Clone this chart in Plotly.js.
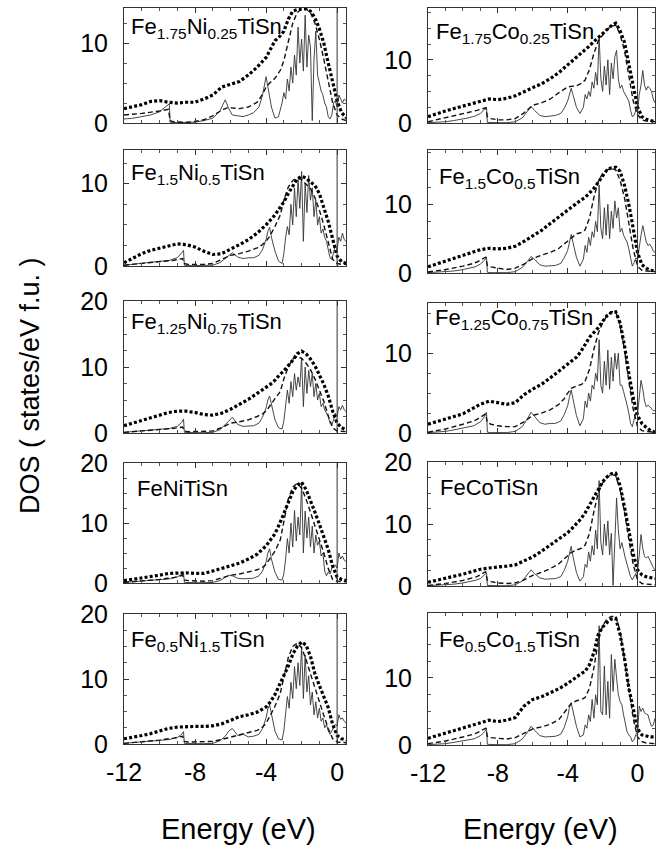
<!DOCTYPE html>
<html><head><meta charset="utf-8">
<script src="https://cdn.plot.ly/plotly-3.0.1.min.js"></script>
<style>html,body{margin:0;padding:0;background:#fff}</style>
</head><body><div id="chart" style="width:666px;height:850px"></div>
<script>
// ---- energy grids (eV) ----
const E_solid = [-12,-11.5,-11,-10.5,-10,-9.7,-9.45,-9.4,-9.3,-9,-8.75,-8.65,-8.6,-8.4,-8,-7.5,-7,-6.6,-6.3,-6.1,-5.9,-5.6,-5.3,-5,-4.7,-4.4,-4.2,-4.0,-3.9,-3.8,-3.7,-3.5,-3.3,-3.1,-3.0,-2.9,-2.8,-2.7,-2.6,-2.5,-2.4,-2.3,-2.2,-2.1,-2.0,-1.9,-1.8,-1.7,-1.6,-1.5,-1.4,-1.3,-1.2,-1.1,-1.0,-0.9,-0.8,-0.7,-0.6,-0.5,-0.4,-0.3,-0.2,-0.1,0,0.1,0.2,0.3,0.4,0.5,0.6,0.7,0.8,0.9,1.0];
const E_dash = [-12,-11,-10,-9.5,-9.4,-9.2,-8.7,-8.6,-8.4,-8,-7.5,-7,-6.5,-6.2,-6,-5.5,-5,-4.5,-4.2,-4,-3.8,-3.5,-3.2,-3,-2.75,-2.5,-2.25,-2,-1.75,-1.5,-1.25,-1,-0.75,-0.5,-0.25,0,0.25,0.5,1];
const E_dots = [-12,-11.5,-11,-10.5,-10,-9.5,-9,-8.5,-8,-7.5,-7,-6.5,-6,-5.5,-5,-4.5,-4,-3.75,-3.5,-3.25,-3,-2.75,-2.5,-2.25,-2,-1.75,-1.5,-1.25,-1,-0.75,-0.5,-0.25,0,0.25,0.5,0.75,1];

const panelLabels = ['Fe<sub>1.75</sub>Ni<sub>0.25</sub>TiSn','Fe<sub>1.75</sub>Co<sub>0.25</sub>TiSn','Fe<sub>1.5</sub>Ni<sub>0.5</sub>TiSn','Fe<sub>1.5</sub>Co<sub>0.5</sub>TiSn','Fe<sub>1.25</sub>Ni<sub>0.75</sub>TiSn','Fe<sub>1.25</sub>Co<sub>0.75</sub>TiSn','FeNiTiSn','FeCoTiSn','Fe<sub>0.5</sub>Ni<sub>1.5</sub>TiSn','Fe<sub>0.5</sub>Co<sub>1.5</sub>TiSn'];
const xTickVals = [-12,-8,-4,0];
const xTickText = ['-12','-8','-4','0'];

// ---- Fe1.75Ni0.25TiSn ----
const solid_Ni025 = [0.5,0.6,0.8,1.0,1.4,1.9,2.4,0.1,0.05,0.05,0.05,0.05,0.05,0.05,0.1,0.3,0.6,1.5,2.9,1.8,1.0,0.9,0.8,1.0,1.3,2.0,3.5,5.8,4.5,3.0,2.0,0.6,0.8,2.5,3.8,3.0,5.5,4.0,7.0,5.0,8.5,6.0,12.0,7.5,10.5,6.5,13.5,7.0,11.0,9.5,0.3,8.0,11.5,6.0,5.0,4.0,3.5,2.5,2.0,0.8,0.5,1.0,2.5,2.8,2.0,3.5,3.0,2.5,3.0,2.8,2.6,2.5,2.3,2.0,2.0];
const dash_Ni025 = [1.0,1.2,1.5,1.7,0.3,0.15,0.1,0.1,0.1,0.2,0.4,0.9,1.6,1.9,1.9,1.8,2.0,2.6,3.6,4.5,5.0,5.6,6.6,7.8,10.0,12.5,13.8,14.3,14.3,13.8,12.5,10.5,8.0,5.0,2.5,1.0,0.5,0.3,0.3];
const dots_Ni025 = [1.8,2.0,2.3,2.7,2.8,2.6,2.5,2.6,2.6,3.0,3.5,4.5,4.9,5.2,6.0,7.0,8.2,9.2,10.3,10.8,11.5,13.0,14.0,14.2,14.3,14.3,14.0,13.2,11.8,10.0,7.5,5.0,2.8,1.3,0.7,0.5,0.4];

// ---- Fe1.75Co0.25TiSn ----
const solid_Co025 = [0.05,0.1,0.2,0.4,0.6,0.8,1.0,1.0,1.1,1.5,2.2,2.5,0.1,0.05,0.05,0.05,0.2,0.8,1.8,2.6,2.0,1.2,1.0,1.1,1.2,1.5,2.3,3.5,4.6,5.5,4.5,2.5,1.5,2.5,4.5,3.8,5.0,4.2,6.5,5.5,8.0,6.0,13.8,7.0,5.0,9.0,6.0,10.0,4.5,9.5,7.0,10.5,11.5,7.0,5.5,6.0,5.0,4.5,4.0,3.5,2.0,1.0,1.2,2.0,1.8,4.5,6.0,8.3,6.0,5.2,5.8,5.5,5.0,3.8,3.2];
const dash_Co025 = [0.2,0.8,1.5,1.8,1.9,2.0,2.4,1.0,0.7,0.5,0.5,0.7,1.6,2.4,2.8,3.2,3.8,4.8,5.4,5.7,5.8,5.9,6.3,6.8,8.5,11.0,13.0,14.0,14.8,15.3,15.5,14.0,11.5,7.5,3.5,1.3,0.5,0.3,0.2];
const dots_Co025 = [1.0,1.5,1.9,2.3,2.7,3.1,3.5,3.8,3.7,3.9,4.3,5.0,5.6,6.2,7.0,8.0,9.2,9.8,10.4,10.9,11.5,12.2,12.9,13.5,14.2,14.8,15.4,15.8,14.6,12.8,9.5,6.2,2.5,1.0,0.6,0.4,0.2];

// ---- Fe1.5Ni0.5TiSn ----
const solid_Ni05 = [0.1,0.2,0.3,0.4,0.5,0.6,0.7,0.7,0.8,1.0,1.6,1.9,0.1,0.05,0.05,0.05,0.1,0.4,0.9,1.3,1.6,1.1,0.9,1.0,1.0,1.3,2.0,3.2,4.2,4.7,3.5,1.8,0.6,0.3,1.5,3.5,4.8,3.8,7.5,5.0,9.5,6.0,10.5,7.0,11.5,3.0,10.0,6.5,11.0,8.0,9.5,6.0,8.0,5.0,6.0,4.0,4.5,3.5,3.0,2.0,1.0,0.8,1.5,2.5,2.0,3.5,3.0,4.0,3.2,3.0,2.8,2.6,2.4,2.2,2.0];
const dash_Ni05 = [0.1,0.3,0.5,0.6,0.6,0.7,0.9,0.3,0.2,0.2,0.2,0.3,0.8,1.2,1.3,1.5,1.8,2.2,2.6,3.0,3.6,4.8,6.2,8.0,9.6,10.4,10.7,10.5,10.0,9.4,8.3,6.8,5.0,2.8,0.8,0.3,0.2,0.2,0.2];
const dots_Ni05 = [0.4,1.0,1.5,1.9,2.2,2.5,2.7,2.6,2.3,1.8,1.4,1.5,2.0,2.6,3.2,4.0,5.0,5.6,6.2,7.0,7.8,8.8,9.8,10.6,10.9,10.7,10.2,9.8,8.8,7.2,5.4,3.3,1.2,0.5,0.3,0.2,0.2];

// ---- Fe1.5Co0.5TiSn ----
const solid_Co05 = [0.05,0.1,0.2,0.3,0.5,0.7,0.8,0.8,0.9,1.3,1.9,2.3,0.1,0.05,0.05,0.05,0.2,0.8,1.7,2.4,2.0,1.2,1.0,1.1,1.1,1.4,2.2,3.3,4.5,5.6,4.5,2.3,1.0,2.0,4.0,3.0,5.2,4.0,6.0,5.2,7.5,6.0,12.8,6.5,5.0,9.5,5.5,10.0,5.0,9.0,6.5,10.5,8.0,9.5,6.0,6.5,5.5,5.0,4.5,3.5,2.0,1.0,1.5,2.2,2.0,4.0,5.5,6.9,5.5,4.5,4.0,4.2,3.8,3.2,3.0];
const dash_Co05 = [0.15,0.5,1.0,1.3,1.4,1.6,2.3,1.1,0.9,0.7,0.5,0.7,1.3,1.8,2.1,2.6,3.0,3.6,4.2,4.7,5.1,5.7,5.9,6.3,8.0,11.0,13.3,14.5,15.0,15.2,15.0,13.5,11.0,7.5,3.5,1.0,0.4,0.3,0.2];
const dots_Co05 = [0.9,1.3,1.7,2.2,2.6,3.0,3.4,3.6,3.5,3.6,3.9,4.6,5.4,6.2,7.2,8.2,9.2,9.7,10.2,10.6,11.0,11.6,12.3,13.2,14.2,15.0,15.3,15.4,14.8,12.8,10.0,6.5,3.0,1.2,0.7,0.4,0.3];

// ---- Fe1.25Ni0.75TiSn ----
const solid_Ni075 = [0.1,0.2,0.3,0.4,0.5,0.6,0.7,0.7,0.8,1.0,1.6,2.1,0.1,0.05,0.05,0.05,0.1,0.5,1.2,1.8,2.4,1.3,1.0,1.1,1.1,1.5,2.4,3.8,5.0,5.6,4.2,2.0,0.8,0.6,1.8,4.0,6.5,4.5,7.8,5.5,9.0,6.5,8.5,7.0,11.4,4.0,10.0,6.0,9.5,7.0,9.0,5.5,7.5,5.0,6.0,4.0,4.5,3.5,3.0,2.5,1.5,1.2,2.0,3.0,2.5,4.0,3.5,4.2,3.5,3.2,3.0,2.8,2.6,2.4,2.2];
const dash_Ni075 = [0.1,0.3,0.5,0.6,0.6,0.7,0.9,0.3,0.2,0.2,0.2,0.3,0.8,1.3,1.5,1.7,2.0,2.5,2.9,3.3,4.0,5.2,6.3,8.2,10.0,11.2,11.6,11.3,10.6,9.6,8.2,6.6,4.8,2.6,0.8,0.3,0.2,0.2,0.2];
const dots_Ni075 = [1.1,1.5,1.9,2.3,2.8,3.1,3.3,3.3,3.1,2.8,2.7,3.0,3.6,4.3,5.1,6.0,6.9,7.4,8.0,8.8,9.4,10.2,11.0,12.0,12.4,12.0,11.2,10.2,8.8,7.4,5.6,3.3,1.5,0.8,0.5,0.3,0.3];

// ---- Fe1.25Co0.75TiSn ----
const solid_Co075 = [0.05,0.1,0.2,0.4,0.6,0.8,0.9,0.9,1.0,1.4,2.1,2.6,0.1,0.05,0.05,0.05,0.2,0.8,1.8,2.6,2.1,1.3,1.1,1.2,1.2,1.5,2.3,3.4,4.5,5.4,4.3,2.2,0.9,1.8,4.0,3.2,5.0,4.0,6.0,5.5,7.5,6.5,11.7,6.0,5.0,9.0,6.0,10.4,5.5,9.5,6.5,10.0,8.0,10.0,6.0,6.0,5.2,4.5,3.5,2.5,1.2,0.8,1.5,2.5,2.4,4.5,6.6,5.5,4.0,3.3,3.5,3.3,3.0,2.8,2.8];
const dash_Co075 = [0.1,0.5,1.1,1.4,1.5,1.7,2.4,1.3,1.1,0.9,0.8,0.8,1.4,1.9,2.2,2.5,2.9,3.6,4.3,5.0,5.6,5.9,6.1,6.5,8.0,10.5,12.5,13.8,14.7,15.2,15.2,13.5,10.5,6.5,3.0,0.8,0.3,0.2,0.1];
const dots_Co075 = [1.1,1.4,1.7,2.0,2.4,3.0,3.6,4.0,3.8,3.6,3.8,4.8,5.5,6.1,6.9,7.8,8.6,9.1,9.5,10.2,11.2,12.0,12.6,13.2,14.0,14.7,15.1,15.2,13.8,11.0,7.5,4.4,2.2,1.2,0.7,0.3,0.1];

// ---- FeNiTiSn ----
const solid_Ni1 = [0.1,0.2,0.3,0.4,0.5,0.6,0.7,0.7,0.8,1.0,1.4,1.7,0.1,0.05,0.05,0.05,0.1,0.4,0.9,1.3,1.2,0.8,0.7,0.7,0.8,1.2,2.0,3.5,5.0,5.7,4.0,1.8,0.6,0.5,1.5,4.0,7.4,5.0,10.0,6.0,12.1,7.0,11.0,8.0,16.8,5.0,12.0,7.5,11.0,6.0,9.5,5.0,8.0,6.3,7.0,4.5,5.0,2.0,1.2,1.8,1.5,2.5,2.8,3.0,2.5,5.0,4.0,4.5,3.8,3.5,3.3,3.0,2.8,2.6,2.4];
const dash_Ni1 = [0.1,0.3,0.6,0.8,0.8,0.9,1.3,0.5,0.4,0.3,0.3,0.4,0.8,1.1,1.3,1.5,1.8,2.2,2.6,3.1,4.0,5.3,7.2,10.5,14.0,16.0,16.6,15.8,14.0,11.8,9.6,7.4,5.0,2.4,0.6,0.3,0.2,0.2,0.2];
const dots_Ni1 = [0.4,0.6,0.8,1.0,1.3,1.6,1.7,1.7,1.6,1.6,2.0,2.4,2.8,3.3,4.0,4.8,6.2,7.2,8.2,9.8,11.5,13.5,15.2,16.3,16.8,15.6,13.8,11.8,9.8,7.8,5.6,2.8,1.0,0.6,0.4,0.3,0.3];

// ---- FeCoTiSn ----
const solid_Co1 = [0.05,0.1,0.2,0.3,0.5,0.7,0.8,0.8,0.9,1.2,1.8,2.1,0.1,0.05,0.05,0.05,0.2,0.8,1.8,2.6,2.0,1.3,1.1,1.2,1.2,1.5,2.5,4.0,5.4,6.4,4.8,2.2,0.8,1.5,3.5,3.0,5.5,4.0,6.5,5.0,9.0,6.0,17.0,7.0,5.0,10.0,6.5,10.5,5.0,8.5,0.1,9.0,14.2,9.0,6.0,7.0,5.5,4.5,3.5,2.5,1.5,1.0,1.5,2.2,2.5,5.0,8.3,6.0,4.8,4.5,4.8,4.2,3.5,3.0,2.5];
const dash_Co1 = [0.1,0.4,0.9,1.2,1.3,1.5,2.3,0.9,0.7,0.5,0.4,0.5,1.0,1.4,1.7,2.2,2.8,3.6,4.4,5.0,5.4,5.8,6.1,6.6,8.5,12.0,15.0,16.6,17.5,18.0,17.8,15.5,12.0,7.5,3.5,1.0,0.4,0.3,0.2];
const dots_Co1 = [0.6,0.9,1.2,1.5,1.9,2.3,2.7,2.9,3.0,3.2,3.4,4.0,4.7,5.6,6.6,7.5,8.6,9.3,10.0,10.8,11.8,13.0,14.2,15.6,16.8,17.6,18.1,18.2,16.2,12.8,9.0,5.2,2.6,1.8,1.5,1.3,1.2];

// ---- Fe0.5Ni1.5TiSn ----
const solid_Ni15 = [0.1,0.2,0.3,0.4,0.5,0.6,0.7,0.7,0.8,1.0,1.5,1.9,0.1,0.05,0.05,0.05,0.1,0.5,1.2,2.0,2.4,1.3,1.5,1.1,1.2,1.5,2.4,4.0,5.4,6.0,4.5,2.0,0.8,0.6,2.0,4.5,7.3,5.5,9.5,7.0,11.9,8.5,12.5,9.0,15.0,7.0,13.7,8.0,10.5,6.0,8.0,4.5,6.5,4.0,5.5,3.5,4.0,2.5,3.0,2.0,1.5,2.0,2.5,3.0,2.8,4.5,3.8,4.0,3.5,3.2,3.0,2.8,2.6,2.4,2.2];
const dash_Ni15 = [0.1,0.3,0.6,0.8,0.8,0.9,1.2,0.4,0.3,0.3,0.3,0.4,0.7,0.9,1.1,1.4,1.7,2.1,2.6,3.2,4.2,5.8,7.8,10.5,13.3,15.0,15.5,14.8,13.0,10.8,8.6,6.4,4.4,2.4,0.8,0.3,0.2,0.2,0.2];
const dots_Ni15 = [0.8,1.0,1.3,1.6,2.0,2.4,2.6,2.7,2.7,2.7,2.8,3.1,3.7,4.2,4.5,4.9,5.7,6.5,7.6,9.0,10.5,12.0,13.8,15.0,15.7,15.2,13.5,10.8,9.0,7.4,5.6,3.0,1.3,0.8,0.6,0.5,0.5];

// ---- Fe0.5Co1.5TiSn ----
const solid_Co15 = [0.05,0.1,0.2,0.4,0.6,0.8,0.9,0.9,1.0,1.4,2.0,2.5,0.1,0.05,0.05,0.05,0.2,0.9,1.9,2.8,2.2,1.4,1.2,1.3,1.3,1.6,2.6,4.2,5.6,6.3,5.0,2.8,1.2,1.5,3.0,2.5,4.5,3.5,6.8,4.0,7.5,6.0,17.8,5.0,4.5,11.8,4.5,9.5,4.0,13.5,8.0,12.8,10.0,7.5,6.5,6.0,4.5,3.0,2.0,1.5,1.2,0.5,0.8,1.5,2.0,5.8,5.0,5.5,4.8,4.6,4.5,3.5,2.8,3.0,4.0];
const dash_Co15 = [0.2,0.6,1.2,1.5,1.6,1.8,2.5,1.3,1.1,1.0,0.9,1.1,1.8,2.2,2.4,2.7,3.1,3.8,4.8,5.6,6.2,6.6,6.8,7.1,8.5,11.5,15.5,17.8,18.8,19.2,19.2,17.0,13.0,8.5,4.0,1.2,0.5,0.3,0.2];
const dots_Co15 = [1.0,1.4,1.8,2.2,2.6,3.0,3.4,3.7,3.5,3.7,4.1,5.8,6.8,7.2,7.8,8.4,9.2,9.7,10.2,10.6,11.0,12.0,13.8,16.5,17.6,18.3,18.8,18.9,16.5,13.0,8.5,5.5,2.4,1.5,1.3,1.2,1.2];

// ---- assembly ----
const seriesSolid = [solid_Ni025, solid_Co025, solid_Ni05, solid_Co05, solid_Ni075, solid_Co075, solid_Ni1, solid_Co1, solid_Ni15, solid_Co15];
const seriesDash  = [dash_Ni025, dash_Co025, dash_Ni05, dash_Co05, dash_Ni075, dash_Co075, dash_Ni1, dash_Co1, dash_Ni15, dash_Co15];
const seriesDots  = [dots_Ni025, dots_Co025, dots_Ni05, dots_Co05, dots_Ni075, dots_Co075, dots_Ni1, dots_Co1, dots_Ni15, dots_Co15];

const W = 666, H = 850;
const fx = p => p / W;
const fy = p => 1 - p / H;
const FONT = 'Liberation Sans, Arial, Helvetica, sans-serif';

// panel geometry (pixels) and axis ranges
const geo = [
  {y0:8,   y1:123, ymax:14.4, yt:[0,10],    lx:129, ly:12},
  {y0:8,   y1:123, ymax:18.2, yt:[0,10],    lx:434, ly:17},
  {y0:150, y1:266, ymax:14.1, yt:[0,10],    lx:129, ly:158},
  {y0:150, y1:273, ymax:17.9, yt:[0,10],    lx:437, ly:162},
  {y0:301, y1:433, ymax:20,   yt:[0,10,20], lx:129, ly:307},
  {y0:303, y1:433, ymax:16.3, yt:[0,10],    lx:433, ly:303},
  {y0:463, y1:583, ymax:20,   yt:[0,10,20], lx:135, ly:474},
  {y0:462, y1:586, ymax:20,   yt:[0,10,20], lx:438, ly:473},
  {y0:614, y1:744, ymax:20,   yt:[0,10,20], lx:129, ly:625},
  {y0:613, y1:745, ymax:19.7, yt:[0,10],    lx:437, ly:625}
];
const colDom = [[124, 346], [428, 655]];
const colRange = [[-12, 0.5], [-12, 1]];

const traces = [];
const layout = {
  width: W, height: H, autosize: false,
  margin: {l:0, r:0, t:0, b:0},
  paper_bgcolor: '#fff', plot_bgcolor: '#fff',
  showlegend: false,
  font: {family: FONT, color: '#000'},
  shapes: [], annotations: []
};

geo.forEach((g, i) => {
  const k = i + 1;
  const col = i % 2;
  const row = Math.floor(i / 2);
  const xa = 'x' + (k === 1 ? '' : k), ya = 'y' + (k === 1 ? '' : k);
  traces.push({x: E_solid, y: seriesSolid[i], xaxis: xa, yaxis: ya, type: 'scatter', mode: 'lines',
    line: {color: '#333', width: 0.9}, hoverinfo: 'skip'});
  traces.push({x: E_dash, y: seriesDash[i], xaxis: xa, yaxis: ya, type: 'scatter', mode: 'lines',
    line: {color: '#111', width: 1.4, dash: '5px,3px'}, hoverinfo: 'skip'});
  traces.push({x: E_dots, y: seriesDots[i], xaxis: xa, yaxis: ya, type: 'scatter', mode: 'lines',
    line: {color: '#000', width: 3.2, dash: '3px,2.2px'}, hoverinfo: 'skip'});

  const xkey = 'xaxis' + (k === 1 ? '' : k), ykey = 'yaxis' + (k === 1 ? '' : k);
  layout[xkey] = {
    domain: [fx(colDom[col][0]), fx(colDom[col][1])],
    range: colRange[col], anchor: ya,
    showgrid: false, zeroline: false,
    showline: true, linecolor: '#333', linewidth: 1, mirror: 'ticks',
    ticks: 'inside', ticklen: 5, tickcolor: '#333', tickwidth: 1,
    tickmode: 'array', tickvals: xTickVals, ticktext: xTickText,
    showticklabels: row === 4, ticklabelstandoff: 6,
    tickfont: {size: 25, family: FONT, color: '#000'},
    minor: {tickmode: 'linear', tick0: 0, dtick: 1, ticks: 'inside', ticklen: 3, tickcolor: '#555'}
  };
  layout[ykey] = {
    domain: [fy(g.y1), fy(g.y0)],
    range: [0, g.ymax], anchor: xa,
    showgrid: false, zeroline: false,
    showline: true, linecolor: '#333', linewidth: 1, mirror: 'ticks',
    ticks: 'inside', ticklen: 5, tickcolor: '#333', tickwidth: 1,
    tickmode: 'array', tickvals: g.yt, ticktext: g.yt.map(String),
    ticklabelstandoff: 10,
    tickfont: {size: 25, family: FONT, color: '#000'},
    minor: {tickmode: 'linear', tick0: 0, dtick: 2.5, ticks: 'inside', ticklen: 3, tickcolor: '#555'}
  };
  layout.shapes.push({type: 'line', xref: xa, yref: ya + ' domain', x0: 0, x1: 0, y0: 0, y1: 1,
    line: {color: '#333', width: 1}});
  layout.annotations.push({text: panelLabels[i], xref: 'paper', yref: 'paper',
    x: fx(g.lx), y: fy(g.ly), xanchor: 'left', yanchor: 'top', showarrow: false,
    font: {size: 22, family: FONT, color: '#000'}});
});

layout.annotations.push({text: 'DOS ( states/eV f.u. )', xref: 'paper', yref: 'paper',
  x: fx(30), y: fy(386), textangle: -90, showarrow: false, xanchor: 'center', yanchor: 'middle',
  font: {size: 27, family: FONT, color: '#000'}});
layout.annotations.push({text: 'Energy (eV)', xref: 'paper', yref: 'paper',
  x: fx(238), y: fy(829), showarrow: false, xanchor: 'center', yanchor: 'middle',
  font: {size: 29, family: FONT, color: '#000'}});
layout.annotations.push({text: 'Energy (eV)', xref: 'paper', yref: 'paper',
  x: fx(540), y: fy(829), showarrow: false, xanchor: 'center', yanchor: 'middle',
  font: {size: 29, family: FONT, color: '#000'}});

Plotly.newPlot('chart', traces, layout, {staticPlot: true, displayModeBar: false});
</script>
</body></html>
